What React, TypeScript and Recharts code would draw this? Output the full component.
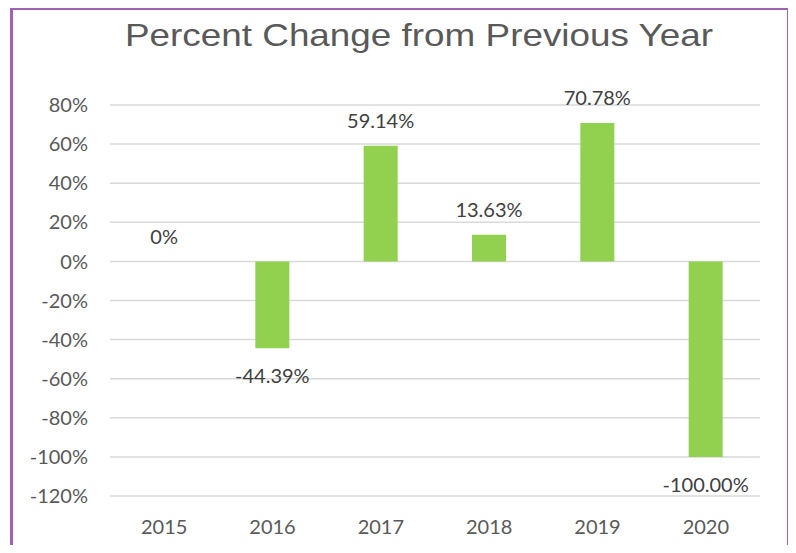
import { BarChart, Bar, XAxis, YAxis, CartesianGrid, ReferenceDot } from 'recharts'

const years = ['2015', '2016', '2017', '2018', '2019', '2020']
const changes = [0, -44.39, 59.14, 13.63, 70.78, -100]
const yTicks = [-120, -100, -80, -60, -40, -20, 0, 20, 40, 60, 80]

const data = years.map((year, i) => ({ year, change: changes[i] }))

const tickStyle = {
  fill: '#595959',
  fontSize: 20,
  fontFamily: 'Lato, sans-serif',
}

const fmtLabel = (v: number) => (v === 0 ? '0%' : `${v.toFixed(2)}%`)

function LabelText({ x, y, v }: { x: number; y: number; v: number }) {
  return (
    <text x={x} y={y} textAnchor="middle" fill="#404040" fontSize={20} fontFamily="Lato, sans-serif">
      {fmtLabel(v)}
    </text>
  )
}

// Excel-style "outside end" labels: above positive bars, below negative ones
// eslint-disable-next-line @typescript-eslint/no-explicit-any
function OutsideLabel(props: any) {
  const { x, y, width, height, value } = props
  const v = Number(value)
  if (v === 0) return null
  const h = Number(height) || 0
  const top = Math.min(y, y + h)
  const bottom = Math.max(y, y + h)
  return <LabelText x={x + width / 2} y={v > 0 ? top - 18 : bottom + 35} v={v} />
}

// recharts drops labels of zero-height bars, so those get a reference dot label
// eslint-disable-next-line @typescript-eslint/no-explicit-any
function ZeroLabel(props: any) {
  const vb = props.viewBox || {}
  const cx = vb.x + (vb.width || 0) / 2
  const cy = vb.y + (vb.height || 0) / 2
  return <LabelText x={cx} y={cy - 17} v={0} />
}

export default function App() {
  return (
    <div
      style={{
        position: 'relative',
        width: 796,
        height: 553,
        margin: -8,
        overflow: 'hidden',
        background: '#fff',
      }}
    >
      <div
        style={{
          position: 'absolute',
          left: 10,
          top: 7,
          width: 780,
          height: 620,
          border: '3px solid #A062B4',
          boxSizing: 'border-box',
        }}
      />
      <svg width={796} height={70} style={{ position: 'absolute', left: 0, top: 0 }}>
        <text
          x={419}
          y={46}
          textAnchor="middle"
          fill="#595959"
          fontSize={32}
          fontFamily="'Liberation Sans', Arial, sans-serif"
          textLength={588}
          lengthAdjust="spacingAndGlyphs"
        >
          Percent Change from Previous Year
        </text>
      </svg>
      <div style={{ position: 'absolute', left: 0, top: 0 }}>
        <BarChart width={796} height={553} data={data} margin={{ top: 105, right: 36, bottom: 0, left: 0 }}>
          <CartesianGrid vertical={false} stroke="#D9D9D9" strokeWidth={1.5} />
          <XAxis
            dataKey="year"
            height={57}
            tick={tickStyle}
            tickLine={false}
            axisLine={false}
            tickMargin={18}
          />
          <YAxis
            width={110}
            domain={[-120, 80]}
            ticks={yTicks}
            tick={tickStyle}
            tickLine={false}
            axisLine={false}
            tickMargin={16}
            tickFormatter={(v) => `${v}%`}
          />
          <Bar
            dataKey="change"
            fill="#92D050"
            barSize={34}
            isAnimationActive={false}
            label={OutsideLabel}
          />
          {data
            .filter((d) => d.change === 0)
            .map((d) => (
              <ReferenceDot
                key={d.year}
                x={d.year}
                y={d.change}
                r={1}
                fill="none"
                stroke="none"
                label={<ZeroLabel />}
              />
            ))}
        </BarChart>
      </div>
    </div>
  )
}
